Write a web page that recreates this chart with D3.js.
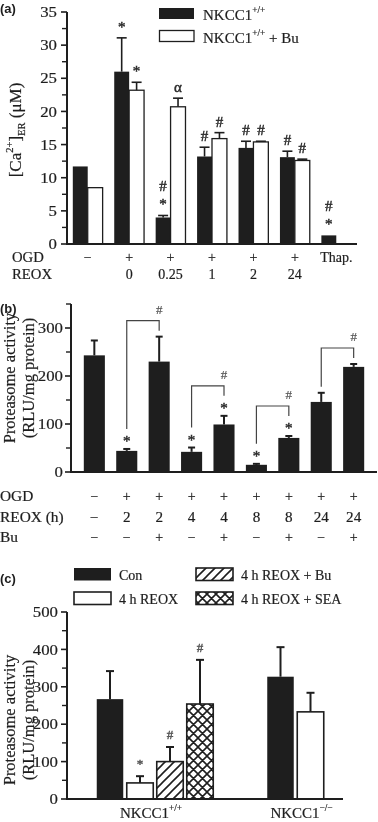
<!DOCTYPE html>
<html><head><meta charset="utf-8">
<script src="https://cdn.jsdelivr.net/npm/d3@7"></script>
<style>
body{margin:0;background:#fff}
svg{display:block;background:#fff;opacity:0.999;will-change:transform}
text{font-family:"Liberation Serif","Times New Roman",serif;fill:#1e1e1e}
</style>
</head><body>
<svg id="chart" width="378" height="822"></svg>
<script>
// ---------- DATA ----------
// Panel (a)
const aGroups = ["ctrl","r0","r0.25","r1","r2","r24","thap"];
const aOGD = ["\u2212","+","+","+","+","+","Thap."];
const aREOX = ["","0","0.25","1","2","24",""];
const aBlack = [11.7, 26.0, 4.0, 13.2, 14.5, 13.1, 1.3];
const aBlackErr = [0, 5.1, 0.3, 1.4, 1.0, 0.9, 0];
const aWhite = [8.5, 23.2, 20.7, 15.9, 15.4, 12.6, null];
const aWhiteErr = [0, 1.2, 1.3, 0.9, 0.1, 0.2, null];
const aBlackSig = [[], ["*"], ["#","*"], ["#"], ["#"], ["#"], ["#","*"]];
const aWhiteSig = [[], ["*"], ["\u03b1"], ["#"], ["#"], ["#"], []];
const aTicks = [0,5,10,15,20,25,30,35];
const aMinor = [2.5,7.5,12.5,17.5,22.5,27.5,32.5];

// Panel (b)
const bOGD  = ["\u2212","+","+","+","+","+","+","+","+"];
const bREOX = ["\u2212","2","2","4","4","8","8","24","24"];
const bBu   = ["\u2212","\u2212","+","\u2212","+","\u2212","+","\u2212","+"];
const bVals = [243, 44, 230, 42, 99, 15, 71, 146, 219];
const bErr  = [31, 4, 52, 9, 18, 2, 4, 19, 6];
const bStar = [false, true, false, true, true, true, true, false, false];
const bBrackets = [[1,2],[3,4],[5,6],[7,8]];
const bTicks = [0,100,200,300];
const bMinor = [50,150,250,350];

// Panel (c)
const cGroups = ["NKCC1+/+","NKCC1-/-"];
const cSeries = ["Con","4 h REOX","4 h REOX + Bu","4 h REOX + SEA"];
const cVals = [[267, 43, 100, 254],[327, 233]];
const cErr  = [[75, 18, 39, 118],[79, 51]];
const cSig  = [["","*","#","#"],["",""]];
const cTicks = [0,100,200,300,400,500];
const cMinor = [50,150,250,350,450];

// ---------- HELPERS ----------
const svg = d3.select("#chart");
const INK = "#1e1e1e";

function txt(parent, x, y, parts, o = {}) {
  const size = o.size || 15;
  const col = o.fill || INK;
  const t = parent.append("text")
    .attr("transform", `translate(${x},${y}) scale(${o.sx || 1},1)` + (o.rot ? ` rotate(${o.rot})` : ""))
    .attr("font-size", size)
    .attr("text-anchor", o.anchor || "start")
    .style("fill", col)
    .attr("stroke", col).attr("stroke-width", o.sw != null ? o.sw : 0.2);
  if (o.family) t.style("font-family", o.family);
  if (o.weight) t.attr("font-weight", o.weight);
  if (typeof parts === "string") parts = [{t: parts}];
  let cur = 0;
  parts.forEach(p => {
    let off = 0, fs = size;
    if (p.sup) { off = -size * 0.45; fs = size * 0.62; }
    if (p.sub) { off = size * 0.25; fs = size * 0.62; }
    const ts = t.append("tspan").text(p.t).attr("dy", off - cur);
    if (fs !== size) ts.attr("font-size", fs);
    cur = off;
  });
  return t;
}
function mark(parent, x, y, s, size, col) {
  return txt(parent, x, y, s, {size, anchor:"middle", fill:col, sw:0.45});
}

function yAxis(scale, x, ticks, minor, tickLen, pad, size) {
  const g = svg.append("g").attr("transform", `translate(${x},0)`);
  const r = scale.range();
  g.append("line").attr("x1",0).attr("x2",0).attr("y1",r[0]+1).attr("y2",r[1])
    .attr("stroke",INK).attr("stroke-width",2);
  ticks.forEach(v => {
    g.append("line").attr("x1",-tickLen).attr("x2",0).attr("y1",scale(v)).attr("y2",scale(v))
      .attr("stroke",INK).attr("stroke-width",1.6);
    txt(g, -tickLen - pad, scale(v) + size*0.34, String(v), {size, anchor:"end", sx:1.12});
  });
  minor.forEach(v => {
    g.append("line").attr("x1",-tickLen+1).attr("x2",0).attr("y1",scale(v)).attr("y2",scale(v))
      .attr("stroke",INK).attr("stroke-width",1.4);
  });
}

function errBar(g, cx, yTop, yBase, half, w) {
  g.append("line").attr("x1",cx).attr("x2",cx).attr("y1",yBase).attr("y2",yTop)
    .attr("stroke",INK).attr("stroke-width",w);
  g.append("line").attr("x1",cx-half).attr("x2",cx+half).attr("y1",yTop).attr("y2",yTop)
    .attr("stroke",INK).attr("stroke-width",w);
}

// patterns
const defs = svg.append("defs");
const p1 = defs.append("pattern").attr("id","diag").attr("patternUnits","userSpaceOnUse")
  .attr("width",9).attr("height",9);
p1.append("rect").attr("width",9).attr("height",9).attr("fill","#fff");
p1.append("path").attr("d","M0,9 L9,0 M-2,2 L2,-2 M7,11 L11,7").attr("stroke",INK).attr("stroke-width",1.6);
const p2 = defs.append("pattern").attr("id","cross").attr("patternUnits","userSpaceOnUse")
  .attr("width",9).attr("height",9);
p2.append("rect").attr("width",9).attr("height",9).attr("fill","#fff");
p2.append("path").attr("d","M0,9 L9,0 M-2,2 L2,-2 M7,11 L11,7 M0,0 L9,9 M-2,7 L2,11 M7,-2 L11,2")
  .attr("stroke",INK).attr("stroke-width",1.6);

// ---------- PANEL A ----------
{
  const ya = d3.scaleLinear().domain([0,35]).range([244,12]);
  const xa = d3.scaleBand().domain(aGroups).range([67,357]).paddingInner(0.28).paddingOuter(0.14);
  const bw = xa.bandwidth()/2;
  const g = svg.append("g");

  txt(g, 0, 13, "(a)", {size:13, family:"Liberation Sans, Arial, sans-serif", weight:"bold", sw:0});

  aGroups.forEach((k,i) => {
    const series = [
      {v:aBlack[i], e:aBlackErr[i], sig:aBlackSig[i], fill:INK, x:xa(k)},
      {v:aWhite[i], e:aWhiteErr[i], sig:aWhiteSig[i], fill:"#fff", x:xa(k)+bw}
    ];
    series.forEach(s => {
      if (s.v == null) return;
      g.append("rect").attr("x",s.x).attr("y",ya(s.v)).attr("width",bw).attr("height",ya(0)-ya(s.v))
        .attr("fill",s.fill).attr("stroke",INK).attr("stroke-width",s.fill === INK ? 0 : 1.3);
      const top = ya(s.v + s.e);
      if (s.e > 0) errBar(g, s.x + bw/2, top, ya(s.v), 5, 1.6);
      const n = s.sig.length;
      s.sig.forEach((m,j) => {
        mark(g, s.x + bw/2, top - 6 - (n-1-j)*18, m, 15, "#2a2a2a");
      });
    });
    const cx = xa(k) + xa.bandwidth()/2;
    txt(g, cx, 262, aOGD[i], {size:14, anchor:"middle"});
    if (aREOX[i]) txt(g, cx, 279, aREOX[i], {size:14, anchor:"middle"});
  });

  g.append("line").attr("x1",67).attr("x2",357).attr("y1",ya(0)).attr("y2",ya(0))
    .attr("stroke",INK).attr("stroke-width",2);
  yAxis(ya, 67, aTicks, aMinor, 6, 4, 15);

  txt(g, 12, 262, "OGD", {size:14, sx:1.05});
  txt(g, 12, 279, "REOX", {size:14, sx:1.05});

  txt(g, 21, 130, [{t:"[Ca"},{t:"2+",sup:true},{t:"]"},{t:"ER",sub:true},{t:" (\u03bcM)"}],
      {size:17, anchor:"middle", rot:-90});

  // legend
  g.append("rect").attr("x",159).attr("y",8).attr("width",35).attr("height",11).attr("fill",INK);
  g.append("rect").attr("x",159.5).attr("y",30.5).attr("width",34.5).attr("height",11)
    .attr("fill","#fff").attr("stroke",INK).attr("stroke-width",1.3);
  txt(g, 203, 20, [{t:"NKCC1"},{t:"+/+",sup:true}], {size:15});
  txt(g, 203, 43, [{t:"NKCC1"},{t:"+/+",sup:true},{t:" + Bu"}], {size:15});
}

// ---------- PANEL B ----------
{
  const yb = d3.scaleLinear().domain([0,350]).range([472,304]);
  const xb = d3.scaleBand().domain(d3.range(9)).range([71,377]).paddingInner(0.35).paddingOuter(0.395);
  const bw = xb.bandwidth();
  const g = svg.append("g");

  txt(g, 0, 313, "(b)", {size:13, family:"Liberation Sans, Arial, sans-serif", weight:"bold", sw:0});

  const errTop = i => yb(bVals[i] + bErr[i]);
  bVals.forEach((v,i) => {
    const x = xb(i);
    g.append("rect").attr("x",x).attr("y",yb(v)).attr("width",bw).attr("height",yb(0)-yb(v)).attr("fill",INK);
    errBar(g, x + bw/2, errTop(i), yb(v), 3.5, 2);
    if (bStar[i]) mark(g, x + bw/2, errTop(i) - 3, "*", 15, "#2a2a2a");
    const cx = x + bw/2;
    txt(g, cx, 501, bOGD[i], {size:14, anchor:"middle"});
    txt(g, cx, 522, bREOX[i], {size:14, anchor:"middle", sx:1.08});
    txt(g, cx, 542, bBu[i], {size:14, anchor:"middle"});
  });

  bBrackets.forEach(([a,b]) => {
    const ends = [a,b].map(i => errTop(i) - (bStar[i] ? 20 : 6));
    const top = Math.min(...ends) - 10;
    const xa = xb(a) + bw/2, xbb = xb(b) + bw/2;
    g.append("path").attr("d",`M${xa},${ends[0]} V${top} H${xbb} V${ends[1]}`)
      .attr("fill","none").attr("stroke","#444").attr("stroke-width",1.2);
    txt(g, xbb, top - 7, "#", {size:13, anchor:"middle", fill:"#555", sw:0.2});
  });

  g.append("line").attr("x1",71).attr("x2",377).attr("y1",yb(0)).attr("y2",yb(0))
    .attr("stroke",INK).attr("stroke-width",2);
  yAxis(yb, 71, bTicks, bMinor, 6, 2, 15);

  txt(g, 0, 501, "OGD", {size:14, sx:1.1});
  txt(g, 0, 522, "REOX (h)", {size:14, sx:1.1});
  txt(g, 0, 542, "Bu", {size:14, sx:1.1});

  txt(g, 15, 378, "Proteasome activity", {size:16.5, anchor:"middle", rot:-90});
  txt(g, 34, 378, "(RLU/mg protein)", {size:16.5, anchor:"middle", rot:-90});
}

// ---------- PANEL C ----------
{
  const yc = d3.scaleLinear().domain([0,500]).range([799,612]);
  const xc = d3.scalePoint().domain(cGroups).range([155,295.5]);
  const slot = 30, bw = 26.5;
  const fills = [INK, "#fff", "url(#diag)", "url(#cross)"];
  const g = svg.append("g");

  txt(g, 0, 583, "(c)", {size:13, family:"Liberation Sans, Arial, sans-serif", weight:"bold", sw:0});

  cGroups.forEach((grp, gi) => {
    const vals = cVals[gi], n = vals.length;
    vals.forEach((v,i) => {
      const cx = xc(grp) + (i - (n-1)/2) * slot;
      g.append("rect").attr("x",cx - bw/2).attr("y",yc(v)).attr("width",bw).attr("height",yc(0)-yc(v))
        .attr("fill",fills[i]).attr("stroke",INK).attr("stroke-width",i === 0 ? 0 : 1.6);
      const top = yc(v + cErr[gi][i]);
      errBar(g, cx, top, yc(v), 4, 2);
      if (cSig[gi][i]) mark(g, cx, top - 8, cSig[gi][i], 13, "#555");
    });
  });

  g.append("line").attr("x1",67).attr("x2",343).attr("y1",yc(0)).attr("y2",yc(0))
    .attr("stroke",INK).attr("stroke-width",2);
  yAxis(yc, 67, cTicks, cMinor, 6, 3, 15);

  txt(g, xc(cGroups[0]) - 4, 818, [{t:"NKCC1"},{t:"+/+",sup:true}], {size:15, anchor:"middle"});
  txt(g, xc(cGroups[1]) + 6, 818, [{t:"NKCC1"},{t:"\u2212/\u2212",sup:true}], {size:15, anchor:"middle"});

  txt(g, 15, 720, "Proteasome activity", {size:16.5, anchor:"middle", rot:-90});
  txt(g, 34, 720, "(RLU/mg protein)", {size:16.5, anchor:"middle", rot:-90});

  // legend
  const lx = [74, 74, 196, 196], ly = [568, 592, 568, 592];
  cSeries.forEach((s,i) => {
    g.append("rect").attr("x",lx[i]).attr("y",ly[i]).attr("width",37).attr("height",12.5)
      .attr("fill",fills[i]).attr("stroke",INK).attr("stroke-width",i === 0 ? 0 : 1.6);
    txt(g, lx[i] + 45, ly[i] + 12, s, {size:14});
  });
}
</script>
</body></html>
